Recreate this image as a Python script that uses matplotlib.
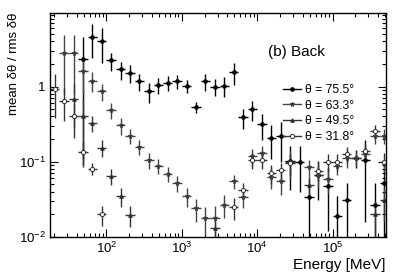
import numpy as np
import matplotlib as mpl
mpl.use('Agg')
import matplotlib.pyplot as plt
from matplotlib.ticker import FuncFormatter, LogLocator
from matplotlib.lines import Line2D

mpl.rcParams['font.family'] = ['Liberation Sans', 'DejaVu Sans']
mpl.rcParams['mathtext.fontset'] = 'custom'
mpl.rcParams['mathtext.rm'] = 'Liberation Sans'

# log10 energy binning of the histograms (MeV): 36 bins, 8 per decade
bin_edges = 10 ** np.linspace(1.25, 5.75, 37)
nan = np.nan

# theta = 75.5 deg
val_755 = [nan, nan, nan, 2.35, 4.6, 4.06, 2.23, 1.69, 1.51, 1.18, 0.86, 1.05,
           1.11, 1.17, 1.03, 0.54, 1.17, 1.0, 1.03, 1.55, 0.39, 0.50, 0.315, 0.21,
           0.22, 0.102, 0.10, 0.034, 0.066, 0.047, 0.019, 0.031, 0.112, 0.106, 0.027, 0.052]
err_755 = [nan, nan, nan, 2.26, 2.2, 2.0, 0.6, 0.45, 0.4, 0.3, 0.25, 0.25,
           0.25, 0.25, 0.2, 0.09, 0.3, 0.25, 0.3, 0.5, 0.12, 0.15, 0.12, 0.1,
           0.12, 0.06, 0.06, 0.025, 0.035, 0.035, 0.016, 0.022, 0.03, 0.09, 0.025, 0.05]

# theta = 63.3 deg
val_633 = [nan, 2.8, 2.8, 1.6, 1.2, 0.865, 0.49, 0.306, 0.22, 0.157, 0.105, 0.089,
           0.069, 0.052, 0.035, 0.024, 0.0177, 0.018, 0.027, 0.055, 0.034, 0.118, 0.13, 0.063,
           0.056, 0.10, nan, 0.085, 0.066, 0.059, 0.087, 0.113, 0.112, 0.125, 0.22, 0.22]
err_633 = [nan, 2.0, 2.0, 0.8, 0.35, 0.22, 0.12, 0.08, 0.05, 0.035, 0.025, 0.02,
           0.015, 0.012, 0.01, 0.008, 0.007, 0.008, 0.009, 0.012, 0.01, 0.03, 0.03, 0.02,
           0.02, 0.04, nan, 0.02, 0.02, 0.02, 0.02, 0.03, 0.025, 0.03, 0.05, 0.05]

# theta = 49.5 deg
val_495 = [nan, nan, 0.68, 0.41, 0.33, 0.154, 0.064, 0.035, 0.0195, nan, nan, nan,
           nan, nan, nan, nan, nan, 0.013, nan, nan, nan, nan, nan, nan,
           nan, nan, nan, 0.049, nan, nan, nan, nan, nan, nan, 0.02, 0.031]
err_495 = [nan, nan, 0.4, 0.3, 0.08, 0.04, 0.015, 0.01, 0.006, nan, nan, nan,
           nan, nan, nan, nan, nan, 0.005, nan, nan, nan, nan, nan, nan,
           nan, nan, nan, 0.015, nan, nan, nan, nan, nan, nan, 0.01, 0.015]

# theta = 31.8 deg
val_318 = [0.93, 0.65, 0.41, 0.134, 0.081, 0.020, nan, nan, nan, nan, nan, nan,
           nan, nan, nan, nan, nan, nan, nan, 0.025, 0.042, 0.105, 0.105, 0.071,
           0.077, 0.095, nan, nan, 0.076, 0.1, 0.1, 0.127, nan, 0.141, 0.257, 0.1]
err_318 = [0.55, 0.3, 0.2, 0.05, 0.015, 0.006, nan, nan, nan, nan, nan, nan,
           nan, nan, nan, nan, nan, nan, nan, 0.008, 0.01, 0.025, 0.025, 0.02,
           0.02, 0.03, nan, nan, 0.02, 0.025, 0.025, 0.03, nan, 0.03, 0.05, 0.03]

series = [
    ("θ = 75.5°", val_755, err_755, 'o', 'black', 'black', 2.6),
    ("θ = 63.3°", val_633, err_633, '*', '#333333', '#444444', 3.6),
    ("θ = 49.5°", val_495, err_495, '^', '#222222', '#333333', 2.6),
    ("θ = 31.8°", val_318, err_318, 'o', 'white', '#333333', 3.0),
]

centers = np.sqrt(bin_edges[:-1] * bin_edges[1:])
xlo = centers - bin_edges[:-1]
xhi = bin_edges[1:] - centers

fig = plt.figure(figsize=(3.99, 2.73), dpi=100)
ax = fig.add_axes([0.1253, 0.1319, 0.8421, 0.8205])

handles = []
for label, vals, errs, mk, fc, ec, ms in series:
    v = np.array(vals, dtype=float)
    e = np.array(errs, dtype=float)
    ok = ~np.isnan(v)
    ax.errorbar(centers[ok], v[ok], yerr=e[ok], xerr=[xlo[ok], xhi[ok]],
                fmt=mk, ms=ms, mfc=fc, mec=ec, mew=0.7, ecolor=ec,
                elinewidth=1.0, capsize=0)
    handles.append(Line2D([], [], color=ec, lw=1.0, marker=mk, ms=ms,
                          mfc=fc, mec=ec, mew=0.7, label=label))

ax.set_xscale('log')
ax.set_yscale('log')
ax.set_xlim(10 ** 1.25, 10 ** 5.71)
ax.set_ylim(0.01, 9.5)


def log_fmt(v, pos):
    n = int(round(np.log10(v)))
    if n == 0:
        return "1"
    return r"$10^{%d}$" % n


ax.xaxis.set_major_locator(LogLocator(base=10, numticks=10))
ax.yaxis.set_major_locator(LogLocator(base=10, numticks=10))
ax.xaxis.set_major_formatter(FuncFormatter(log_fmt))
ax.yaxis.set_major_formatter(FuncFormatter(log_fmt))
ax.tick_params(which='both', direction='in', top=True, right=True, width=0.8)
ax.tick_params(which='major', length=6, labelsize=9.5, pad=3)
ax.tick_params(which='minor', length=3)
for s in ax.spines.values():
    s.set_linewidth(1.0)

ax.set_xlabel("Energy [MeV]", loc='right', fontsize=11, labelpad=1)
ax.set_ylabel("mean δθ / rms δθ", loc='top', fontsize=9.5)
ax.yaxis.set_label_coords(-0.088, 1.0)

ax.text(0.648, 0.81, "(b) Back", transform=ax.transAxes, fontsize=11)

leg = ax.legend(handles=handles, loc='upper left', bbox_to_anchor=(0.68, 0.705),
                frameon=False, fontsize=8.7, handlelength=1.5, handletextpad=0.3,
                labelspacing=0.3, borderaxespad=0)

fig.savefig("out.png", dpi=100)
